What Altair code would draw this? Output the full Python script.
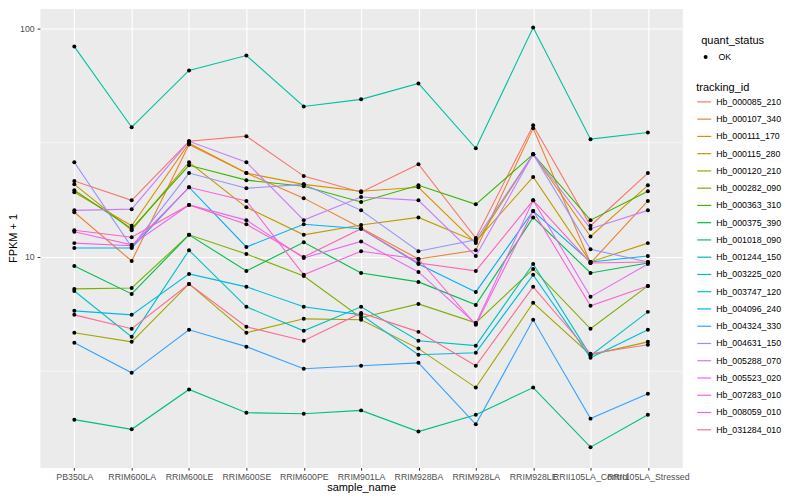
import altair as alt
import pandas as pd

FONT = "Liberation Sans"

samples = ["PB350LA", "RRIM600LA", "RRIM600LE", "RRIM600SE", "RRIM600PE",
           "RRIM901LA", "RRIM928BA", "RRIM928LA", "RRIM928LE",
           "RRII105LA_Control", "RRII105LA_Stressed"]

tracking_ids = ["Hb_000085_210", "Hb_000107_340", "Hb_000111_170", "Hb_000115_280",
                "Hb_000120_210", "Hb_000282_090", "Hb_000363_310", "Hb_000375_390",
                "Hb_001018_090", "Hb_001244_150", "Hb_003225_020", "Hb_003747_120",
                "Hb_004096_240", "Hb_004324_330", "Hb_004631_150", "Hb_005288_070",
                "Hb_005523_020", "Hb_007283_010", "Hb_008059_010", "Hb_031284_010"]

colors = ["#F8766D", "#EA8331", "#D89000", "#C09B00", "#A3A500", "#7CAE00",
          "#39B600", "#00BB4E", "#00BF7D", "#00C1A3", "#00BFC4", "#00BAE0",
          "#00B0F6", "#35A2FF", "#9590FF", "#C77CFF", "#E76BF3", "#FA62DB",
          "#FF62BC", "#FF6C91"]

# FPKM + 1 per sample (order of `samples`)
hb_000085_210 = [21.5, 17.7, 32.1, 33.8, 22.6, 19.2, 25.5, 12.1, 37.7, 13.7, 23.3]
hb_000107_340 = [15.7, 9.6, 31.1, 23.3, 18.1, 13.4, 9.8, 10.7, 36.6, 9.41, 17.6]
hb_000111_170 = [19.2, 13.7, 31.5, 23.3, 20.8, 19.4, 20.2, 11.5, 28.2, 12.3, 20.6]
hb_000115_280 = [20.8, 13.1, 26.0, 16.5, 12.5, 13.8, 14.9, 11.7, 22.4, 9.51, 11.5]
hb_000120_210 = [4.66, 4.25, 7.62, 4.66, 5.36, 5.31, 3.97, 2.68, 6.30, 3.73, 4.25]
hb_000282_090 = [7.25, 7.32, 12.5, 10.3, 8.26, 5.42, 6.23, 5.15, 8.86, 4.85, 7.47]
hb_000363_310 = [19.6, 13.3, 25.2, 21.7, 20.4, 17.4, 20.6, 17.0, 28.2, 14.5, 19.4]
hb_000375_390 = [9.14, 6.89, 12.5, 8.69, 11.6, 8.51, 7.78, 6.17, 14.9, 8.51, 9.41]
hb_001018_090 = [1.94, 1.76, 2.63, 2.08, 2.06, 2.13, 1.72, 2.04, 2.68, 1.47, 2.04]
hb_001244_150 = [83.4, 37.0, 65.6, 76.2, 45.6, 49.0, 57.5, 29.9, 101.0, 32.8, 35.1]
hb_003225_020 = [7.10, 4.47, 10.7, 6.05, 4.75, 6.05, 4.30, 4.09, 9.32, 3.70, 5.75]
hb_003747_120 = [5.81, 5.58, 8.43, 7.40, 6.05, 5.58, 3.73, 3.81, 8.35, 3.62, 4.80]
hb_004096_240 = [10.95, 10.95, 20.2, 11.06, 13.9, 13.3, 9.32, 7.03, 15.9, 9.51, 10.1]
hb_004324_330 = [4.21, 3.11, 4.80, 4.05, 3.24, 3.34, 3.44, 1.85, 5.31, 1.96, 2.52]
hb_004631_150 = [26.0, 11.06, 23.3, 20.0, 20.8, 16.0, 10.6, 11.9, 28.2, 10.8, 9.51]
hb_005288_070 = [16.0, 16.2, 32.1, 26.0, 14.5, 18.3, 17.7, 10.1, 28.2, 13.3, 16.0]
hb_005523_020 = [12.9, 11.3, 16.9, 14.5, 9.90, 11.7, 8.60, 5.10, 17.7, 6.69, 9.32]
hb_007283_010 = [11.5, 11.2, 20.2, 17.6, 8.35, 10.6, 9.80, 5.05, 15.9, 6.11, 7.47]
hb_008059_010 = [13.1, 12.2, 16.9, 13.9, 10.0, 13.3, 9.41, 8.69, 17.7, 9.41, 9.51]
hb_031284_010 = [5.58, 4.85, 7.62, 4.95, 4.30, 5.69, 4.70, 3.34, 7.40, 3.77, 4.13]

series = [hb_000085_210, hb_000107_340, hb_000111_170, hb_000115_280, hb_000120_210,
          hb_000282_090, hb_000363_310, hb_000375_390, hb_001018_090, hb_001244_150,
          hb_003225_020, hb_003747_120, hb_004096_240, hb_004324_330, hb_004631_150,
          hb_005288_070, hb_005523_020, hb_007283_010, hb_008059_010, hb_031284_010]

major_breaks = [10, 100]
minor_breaks = [3.1623, 31.623]

rows = []
for tid, vals in zip(tracking_ids, series):
    for i, (s, v) in enumerate(zip(samples, vals)):
        rows.append({"tracking_id": tid, "sample_name": s, "idx": i,
                     "fpkm": v, "quant_status": "OK"})
df = pd.DataFrame(rows)
minor_df = pd.DataFrame({"fpkm": minor_breaks})

y_scale = alt.Scale(type="log", domain=[1.198, 122.3], nice=False)
y_axis = alt.Axis(title="FPKM + 1", values=major_breaks, format="d",
                  grid=True, gridColor="white", gridWidth=1.1,
                  domain=False, tickColor="#333333", tickSize=2.75, tickWidth=1,
                  labelFontSize=8.8, labelColor="#4D4D4D", labelPadding=3,
                  titleFontSize=11, titleFontWeight="normal", titleColor="black",
                  titlePadding=1)
y_enc = alt.Y("fpkm:Q", scale=y_scale, axis=y_axis)

x_enc = alt.X("sample_name:N", sort=samples,
              scale=alt.Scale(type="point", padding=0.6),
              axis=alt.Axis(title="sample_name", labelAngle=0, labelOverlap=False,
                            grid=True, gridColor="white", gridWidth=1.1,
                            domain=False, tickColor="#333333", tickSize=2.75, tickWidth=1,
                            labelFontSize=8.8, labelColor="#4D4D4D", labelPadding=2,
                            titleFontSize=11, titleFontWeight="normal", titleColor="black",
                            titlePadding=1))

rules = alt.Chart(minor_df).mark_rule(color="white", strokeWidth=0.55).encode(y=y_enc)

lines = alt.Chart(df).mark_line(strokeWidth=1.1).encode(
    x=x_enc,
    y=y_enc,
    color=alt.Color("tracking_id:N",
                    scale=alt.Scale(domain=tracking_ids, range=colors),
                    legend=alt.Legend(title="tracking_id", orient="none",
                                      legendX=658, legendY=74,
                                      symbolType="stroke", symbolSize=196,
                                      symbolStrokeWidth=1.2,
                                      labelFontSize=8.8, labelColor="black",
                                      labelFont=FONT, labelOffset=4,
                                      titleFontSize=11, titleFont=FONT,
                                      titleFontWeight="normal", titleColor="black",
                                      titlePadding=0.5, rowPadding=4.3)),
    order=alt.Order("idx:Q"),
)

points = alt.Chart(df).mark_point(filled=True, size=16, color="black", opacity=1).encode(
    x=x_enc,
    y=y_enc,
    shape=alt.Shape("quant_status:N",
                    scale=alt.Scale(domain=["OK"], range=["circle"]),
                    legend=alt.Legend(title="quant_status", orient="none",
                                      legendX=663, legendY=26,
                                      symbolSize=16, symbolFillColor="black",
                                      symbolStrokeColor="black", symbolStrokeWidth=0,
                                      labelFontSize=8.8, labelColor="black",
                                      labelFont=FONT, labelOffset=8.5,
                                      titleFontSize=11, titleFont=FONT,
                                      titleFontWeight="normal", titleColor="black",
                                      titlePadding=7)),
)

chart = alt.layer(rules, lines, points).properties(
    width=644, height=460,
    autosize=alt.AutoSizeParams(type="none"),
    padding={"left": 32, "top": 0, "right": 110, "bottom": 32},
).configure(font=FONT).configure_view(fill="#EBEBEB", stroke="transparent")

chart.save("out.html", embed_options={"renderer": "svg", "actions": False})
